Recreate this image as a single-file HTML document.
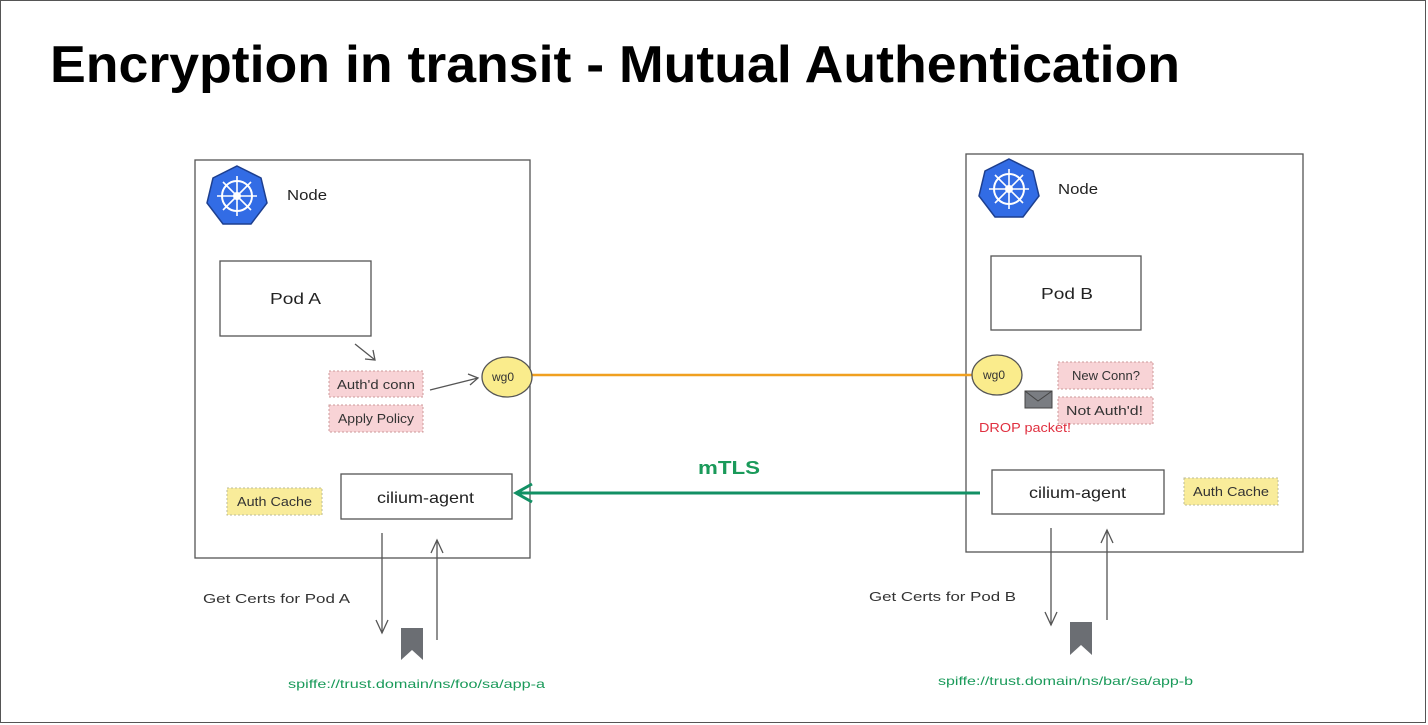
<!DOCTYPE html>
<html><head><meta charset="utf-8"><style>
html,body{margin:0;padding:0;background:#fff;}
svg{display:block;}
text{font-family:"Liberation Sans",sans-serif;}
</style></head><body>
<svg width="1428" height="725" viewBox="0 0 1428 725" xmlns="http://www.w3.org/2000/svg">
<rect x="0.5" y="0.5" width="1425" height="722" fill="#fff" stroke="#555" stroke-width="1"/>
<text x="50" y="82" font-size="52" font-weight="bold" fill="#000" textLength="1130" lengthAdjust="spacingAndGlyphs">Encryption in transit - Mutual Authentication</text>

<g fill="none" stroke="#555" stroke-width="1.3">
<rect x="195" y="160" width="335" height="398"/>
<rect x="966" y="154" width="337" height="398"/>
<rect x="220" y="261" width="151" height="75"/>
<rect x="991" y="256" width="150" height="74"/>
<rect x="341" y="474" width="171" height="45"/>
<rect x="992" y="470" width="172" height="44"/>
</g>

<g>
<polygon points="237,166 261,178 267,203 251,224 223,224 207,203 213,178" fill="#326ce5" stroke="#1d3f8f" stroke-width="1.5"/>
<circle cx="237" cy="196" r="15" fill="none" stroke="#fff" stroke-width="2"/>
<circle cx="237" cy="196" r="4" fill="#fff"/>
<g stroke="#fff" stroke-width="1.6"><line x1="237" y1="176" x2="237" y2="216"/><line x1="217" y1="196" x2="257" y2="196"/><line x1="223" y1="182" x2="251" y2="210"/><line x1="251" y1="182" x2="223" y2="210"/></g>
</g>
<g>
<polygon points="1009,159 1033,171 1039,196 1023,217 995,217 979,196 985,171" fill="#326ce5" stroke="#1d3f8f" stroke-width="1.5"/>
<circle cx="1009" cy="189" r="15" fill="none" stroke="#fff" stroke-width="2"/>
<circle cx="1009" cy="189" r="4" fill="#fff"/>
<g stroke="#fff" stroke-width="1.6"><line x1="1009" y1="169" x2="1009" y2="209"/><line x1="989" y1="189" x2="1029" y2="189"/><line x1="995" y1="175" x2="1023" y2="203"/><line x1="1023" y1="175" x2="995" y2="203"/></g>
</g>

<g font-size="15" fill="#222">
<text x="287" y="200" textLength="40" lengthAdjust="spacingAndGlyphs">Node</text>
<text x="1058" y="194" textLength="40" lengthAdjust="spacingAndGlyphs">Node</text>
<text x="270" y="304" font-size="16" textLength="51" lengthAdjust="spacingAndGlyphs">Pod A</text>
<text x="1041" y="299" font-size="16" textLength="52" lengthAdjust="spacingAndGlyphs">Pod B</text>
<text x="377" y="503" font-size="16" textLength="97" lengthAdjust="spacingAndGlyphs">cilium-agent</text>
<text x="1029" y="498" font-size="16" textLength="97" lengthAdjust="spacingAndGlyphs">cilium-agent</text>
</g>

<g stroke="#c99" stroke-width="1" stroke-dasharray="2,2">
<rect x="329" y="371" width="94" height="26" fill="#f8d3d6"/>
<rect x="329" y="405" width="94" height="27" fill="#f8d3d6"/>
<rect x="1058" y="362" width="95" height="27" fill="#f8d3d6"/>
<rect x="1058" y="397" width="95" height="27" fill="#f8d3d6"/>
</g>
<g stroke="#bb9" stroke-width="1" stroke-dasharray="2,2">
<rect x="227" y="488" width="95" height="27" fill="#f9ec9a"/>
<rect x="1184" y="478" width="94" height="27" fill="#f9ec9a"/>
</g>
<g font-size="13" fill="#333">
<text x="337" y="389" textLength="78" lengthAdjust="spacingAndGlyphs">Auth'd conn</text>
<text x="338" y="423" textLength="76" lengthAdjust="spacingAndGlyphs">Apply Policy</text>
<text x="1072" y="380" textLength="68" lengthAdjust="spacingAndGlyphs">New Conn?</text>
<text x="1066" y="415" textLength="77" lengthAdjust="spacingAndGlyphs">Not Auth'd!</text>
<text x="237" y="506" textLength="75" lengthAdjust="spacingAndGlyphs">Auth Cache</text>
<text x="1193" y="496" textLength="76" lengthAdjust="spacingAndGlyphs">Auth Cache</text>
</g>

<line x1="532" y1="375" x2="972" y2="375" stroke="#f0a020" stroke-width="2.5"/>
<ellipse cx="507" cy="377" rx="25" ry="20" fill="#faec8c" stroke="#555" stroke-width="1.3"/>
<ellipse cx="997" cy="375" rx="25" ry="20" fill="#faec8c" stroke="#555" stroke-width="1.3"/>
<text x="492" y="381" font-size="12" fill="#333">wg0</text>
<text x="983" y="379" font-size="12" fill="#333">wg0</text>

<line x1="980" y1="493" x2="518" y2="493" stroke="#129064" stroke-width="3"/>
<polyline points="532,484 516,493 532,502" fill="none" stroke="#129064" stroke-width="3"/>
<text x="698" y="474" font-size="18" font-weight="bold" fill="#1a9a5a" textLength="62" lengthAdjust="spacingAndGlyphs">mTLS</text>

<g stroke="#555" stroke-width="1.3" fill="none">
<line x1="355" y1="344" x2="375" y2="360"/><polyline points="365,359 375,360 373,350"/>
<line x1="430" y1="390" x2="478" y2="378"/><polyline points="468,374 478,378 470,385"/>
<line x1="382" y1="533" x2="382" y2="633"/><polyline points="376,620 382,633 388,620"/>
<line x1="437" y1="640" x2="437" y2="540"/><polyline points="431,553 437,540 443,553"/>
<line x1="1051" y1="528" x2="1051" y2="625"/><polyline points="1045,612 1051,625 1057,612"/>
<line x1="1107" y1="620" x2="1107" y2="530"/><polyline points="1101,543 1107,530 1113,543"/>
</g>

<polygon points="401,628 423,628 423,660 412,650 401,660" fill="#6b6e73"/>
<polygon points="1070,622 1092,622 1092,655 1081,645 1070,655" fill="#6b6e73"/>

<rect x="1025" y="391" width="27" height="17" fill="#7a7d82" stroke="#444" stroke-width="1"/>
<polyline points="1025,391 1038,401 1052,391" fill="none" stroke="#444" stroke-width="1"/>
<text x="979" y="432" font-size="13" fill="#e03040" textLength="92" lengthAdjust="spacingAndGlyphs">DROP packet!</text>

<g font-size="13" fill="#333">
<text x="203" y="603" textLength="147" lengthAdjust="spacingAndGlyphs">Get Certs for Pod A</text>
<text x="869" y="601" textLength="147" lengthAdjust="spacingAndGlyphs">Get Certs for Pod B</text>
</g>
<g font-size="12" fill="#1a9a5a">
<text x="288" y="688" textLength="257" lengthAdjust="spacingAndGlyphs">spiffe://trust.domain/ns/foo/sa/app-a</text>
<text x="938" y="685" textLength="255" lengthAdjust="spacingAndGlyphs">spiffe://trust.domain/ns/bar/sa/app-b</text>
</g>
</svg>
</body></html>
